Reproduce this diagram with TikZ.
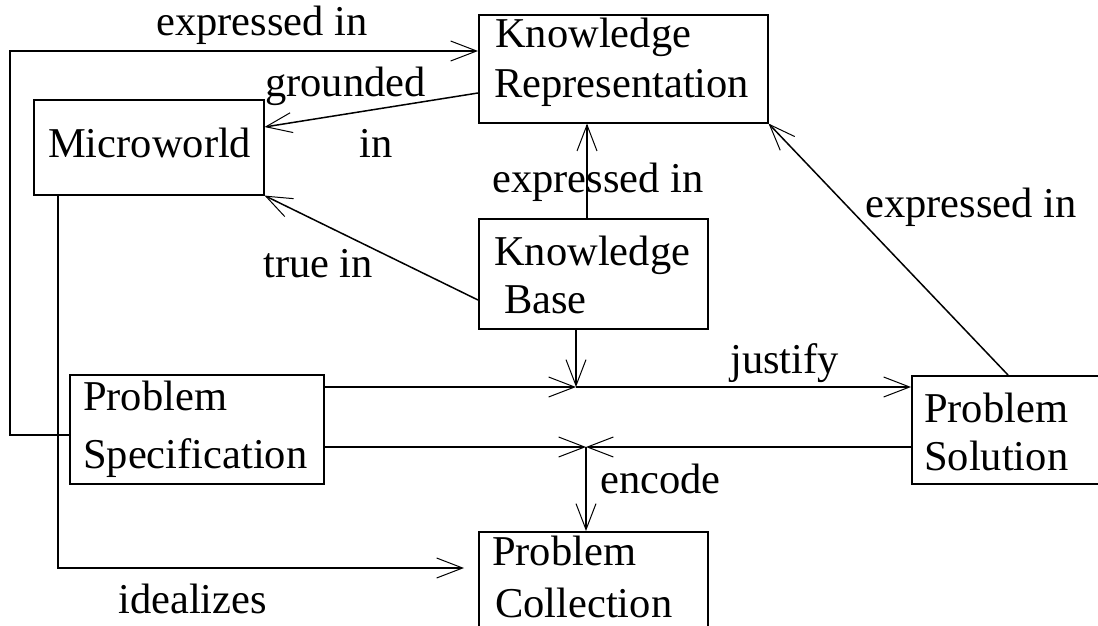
\documentclass[tikz,border=0pt]{standalone}
\usepackage{fontspec}
\setmainfont{Liberation Serif}
\usetikzlibrary{arrows.meta}
\tikzset{
  box/.style={draw, line width=1.6pt, inner sep=0pt, anchor=north west},
  txt/.style={inner sep=0pt, anchor=base west, font=\fontsize{42.5}{48}\selectfont},
  conn/.style={line width=1.5pt},
  arr/.style={conn, -{Straight Barb[length=26pt, width=20pt, line width=1pt]}},
}
\begin{document}
\begin{tikzpicture}[x=1pt, y=-1pt]
\useasboundingbox (0,0) rectangle (1098,626);
\clip (0,0) rectangle (1098,626);
\fill[white] (0,0) rectangle (1098,626);
% boxes
\node[box, minimum width=289pt, minimum height=108pt] (kr) at (478,14) {};
\node[box, minimum width=230pt, minimum height=95pt] (mw) at (33,99) {};
\node[box, minimum width=229pt, minimum height=110pt] (kb) at (478,218) {};
\node[box, minimum width=254pt, minimum height=109pt] (ps) at (69,374) {};
\node[box, minimum width=220pt, minimum height=108pt] (psol) at (911,375) {};
\node[box, minimum width=229pt, minimum height=110pt] (pc) at (478,531) {};
% box texts
\node[txt] (krA) at (495,48) {Knowledge};
\node[txt] (krB) at (494,97) {Representation};
\node[txt] (mwA) at (48,157) {Microworld};
\node[txt] (kbA) at (494,265) {Knowledge};
\node[txt] (kbB) at (504,313) {Base};
\node[txt] (psA) at (83,410) {Problem};
\node[txt] (psB) at (83,468) {Specification};
\node[txt] (psolA) at (924,422) {Problem};
\node[txt] (psolB) at (924,470) {Solution};
\node[txt] (pcA) at (492,565) {Problem};
\node[txt] (pcB) at (495,617) {Collection};
% connector labels
\node[txt] (l1) at (156,36) {expressed in};
\node[txt] (l2) at (265,96) {grounded};
\node[txt] (l3) at (359,157) {in};
\node[txt] (l4) at (263,277) {true in};
\node[txt] (l5) at (492,192) {expressed in};
\node[txt] (l6) at (865,217) {expressed in};
\node[txt] (l7) at (730,373) {justify};
\node[txt] (l8) at (600,493) {encode};
\node[txt] (l9) at (118,613) {idealizes};
% coordinates
\coordinate (lpA) at (10,435);
\coordinate (lpB) at (10,51);
\coordinate (gA) at (478,93);
\coordinate (gB) at (263,127);
\coordinate (tA) at (478,300);
\coordinate (xe) at (587,170);
\coordinate (xs) at (1008,300);
\coordinate (idA) at (58,568);
\coordinate (idB) at (464,568);
\coordinate (jn) at (576,387);
\coordinate (en) at (586,447);
% connectors
\draw[arr] (ps.west |- lpA) -- (lpA) -- (lpB) -- (kr.west |- lpB);
\draw[arr] (kr.west |- gA) -- (mw.east |- gB);
\draw[arr] (kb.west |- tA) -- (mw.south east);
\draw[arr] (kb.north -| xe) -- (kr.south -| xe);
\draw[arr] (psol.north -| xs) -- (kr.south east);
\draw[arr] (mw.south -| idA) -- (idA) -- (idB);
\draw[arr] (ps.east |- jn) -- (jn);
\draw[arr] (kb.south -| jn) -- (jn);
\draw[arr] (jn) -- (psol.west |- jn);
\draw[arr] (ps.east |- en) -- (en);
\draw[arr] (psol.west |- en) -- (en);
\draw[arr] (en) -- (pc.north -| en);
\end{tikzpicture}
\end{document}
